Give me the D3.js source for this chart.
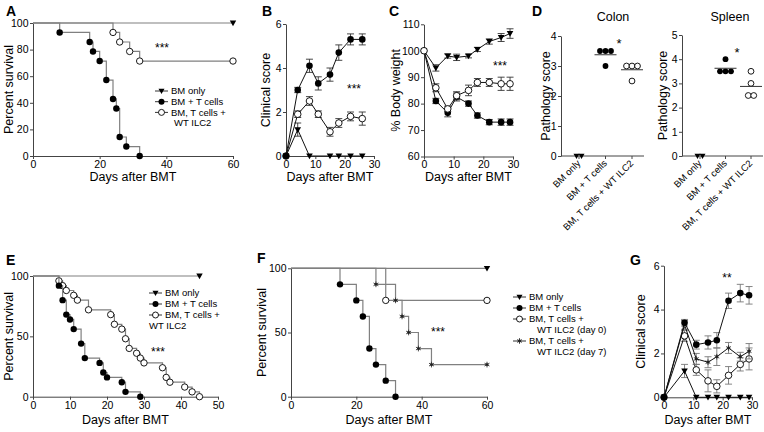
<!DOCTYPE html>
<html><head><meta charset="utf-8">
<script src="https://cdn.jsdelivr.net/npm/d3@7"></script>
<style>body{margin:0;background:#fff} svg{display:block} text{font-family:"Liberation Sans",Arial,Helvetica,sans-serif;fill:#000}</style>
</head><body><svg id="c" width="764" height="432"></svg>
<script>
// ---------------- DATA ----------------
// Panel A: Kaplan-Meier survival (days, percent)
const aBM_days = [60], aBM_pct = [100];
const aT_days = [8,17,18,20,22,24,25,26,28,32];
const aT_pct  = [92.9,85.7,78.6,71.4,57.1,42.9,35.7,14.3,7.1,0];
const aILC_days = [24,26,29,32,60];
const aILC_pct  = [92.9,85.7,78.6,71.4,71.4];

// Panel B: clinical score
const bDays = [0,4,8,11,15,18,22,26];
const bT_mean = [0,3.0,4.1,3.3,3.7,4.7,5.3,5.3];
const bT_sem  = [0,0.12,0.3,0.3,0.3,0.35,0.25,0.25];
const bILC_mean = [0,1.9,2.5,1.9,1.1,1.5,1.8,1.7];
const bILC_sem  = [0,0.15,0.2,0.15,0.2,0.2,0.2,0.3];
const bBM_days = [0,4,8,15,18,22,26];
const bBM_mean = [0,1.2,0,0,0,0,0];
const bBM_sem  = [0,0.3,0,0,0,0,0];

// Panel C: % body weight
const cDays = [0,4,8,11,15,18,22,26,29];
const cBM_mean = [100,93.5,98,97.5,98,100.5,103.5,105,106.5];
const cBM_sem  = [0,1.2,0.8,1.2,0.7,0.8,1.0,1.5,1.8];
const cT_mean  = [100,81,76.5,82.5,80,75.5,73,73,73];
const cT_sem   = [0,1.0,1.5,1.5,1.0,1.0,1.0,1.2,1.2];
const cILC_mean = [100,86,78,83,85,88,88,87.5,87.5];
const cILC_sem  = [0,1.5,1.0,1.5,2.0,1.5,1.5,2.5,2.5];

// Panel D: pathology scores
const dCategories = ["BM only","BM + T cells","BM, T cells + WT ILC2"];
const dColon_BM = [0,0], dColon_T = [3.5,3.5,3.5,3.0], dColon_ILC = [3.0,3.0,3.0,2.5];
const dSpleen_BM = [0,0], dSpleen_T = [4.0,3.5,3.5,3.5], dSpleen_ILC = [3.5,3.0,2.5,2.5];

// Panel E: survival
const eBM_days = [45], eBM_pct = [100];
const eT_days = [7,8,9,10,11,13,14,18,19,20,24,25,29];
const eT_pct  = [92,80,68,64,56,44,32,28,20,16,12,4,0];
const eILC_days = [7,8,9,11,12,15,21,22,24,25,26,28,29,30,35,36,37,41,43,45];
const eILC_pct  = [96,92,88,84,80,72,68,60,56,48,40,36,32,28,24,16,12,8,4,0];

// Panel F: survival
const fBM_days = [60], fBM_pct = [100];
const fT_days = [15,20,22,24,26,29,32];
const fT_pct  = [87.5,75,62.5,37.5,25,12.5,0];
const fD0_days = [29,60], fD0_pct = [75,75];
const fD7_days = [26,32,34,36,39,43,60];
const fD7_pct  = [87.5,75,62.5,50,37.5,25,25];

// Panel G: clinical score
const gDays = [0,7,11,15,18,22,26,29];
const gT_mean  = [0,3.4,2.4,2.5,2.6,4.4,4.75,4.65];
const gT_sem   = [0,0.15,0.2,0.3,0.35,0.35,0.4,0.4];
const gD7_mean = [0,3.3,1.75,1.6,1.85,2.25,1.85,2.1];
const gD7_sem  = [0,0.2,0.25,0.25,0.4,0.25,0.2,0.35];
const gD0_mean = [0,2.8,1.25,0.75,0.5,1.0,1.5,1.75];
const gD0_sem  = [0,0.25,0.25,0.5,0.3,0.4,0.3,0.5];
const gBM_mean = [0,1.2,0,0,0,0,0,0];
const gBM_sem  = [0,0.3,0,0,0,0,0,0];

// ---------------- DRAWING ----------------
const svg = d3.select("#c");
const AX = "#444";
const GRAY = "#808080";
const fmt = d3.format("d");

function styleAxis(g){
  g.selectAll("path.domain").attr("stroke",AX).attr("stroke-width",1);
  g.selectAll(".tick line").attr("stroke",AX);
  g.selectAll(".tick text").attr("font-size","10.5px").attr("fill","#000")
   .attr("font-family",'"Liberation Sans", Arial, Helvetica, sans-serif');
}
function axes(x, y, xt, yt){
  const gx = svg.append("g").attr("transform",`translate(0,${y.range()[0]})`)
    .call(d3.axisBottom(x).tickValues(xt).tickFormat(fmt).tickSize(3).tickSizeOuter(0).tickPadding(1.5));
  styleAxis(gx);
  const gy = svg.append("g").attr("transform",`translate(${x.range()[0]},0)`)
    .call(d3.axisLeft(y).tickValues(yt).tickFormat(fmt).tickSize(3).tickSizeOuter(0).tickPadding(1.5));
  styleAxis(gy);
}
function label(txt, x, y, size, opts={}){
  const t = svg.append("text").attr("x",x).attr("y",y).attr("font-size",size+"px").text(txt);
  if(opts.anchor) t.attr("text-anchor",opts.anchor);
  if(opts.bold) t.attr("font-weight","bold");
  if(opts.rot) t.attr("transform",`rotate(${opts.rot},${x},${y})`);
  return t;
}
function letter(L,x,y){ label(L,x,y,14,{bold:true}); }
function xTitle(x, y){ label("Days after BMT", (x.range()[0]+x.range()[1])/2, y, 12.5, {anchor:"middle"}); }
function yTitle(txt, x, y){ label(txt, x, (y.range()[0]+y.range()[1])/2, 12.5, {anchor:"middle", rot:-90}); }

// markers
function marker(g, type, cx, cy, r){
  r = r||3.3;
  if(type==="fill") g.append("circle").attr("cx",cx).attr("cy",cy).attr("r",r).attr("fill","#000");
  else if(type==="open") g.append("circle").attr("cx",cx).attr("cy",cy).attr("r",r).attr("fill","#fff").attr("stroke","#000").attr("stroke-width",0.9);
  else if(type==="tri") g.append("path").attr("d",`M${cx-r},${cy-r*0.75}L${cx+r},${cy-r*0.75}L${cx},${cy+r}Z`).attr("fill","#000");
  else if(type==="star"){
    g.append("path").attr("transform",`translate(${cx},${cy})`).attr("d",d3.symbol(d3.symbolAsterisk, 22)())
      .attr("stroke","#333").attr("stroke-width",0.9).attr("fill","none");
    g.append("circle").attr("cx",cx).attr("cy",cy).attr("r",1.4).attr("fill","#222");
  }
}

function survival(x, y, days, pct, type, color){
  const pts = [[0,100]].concat(days.map((d,i)=>[d,pct[i]]));
  svg.append("path").attr("d", d3.line().x(d=>x(d[0])).y(d=>y(d[1])).curve(d3.curveStepAfter)(pts))
    .attr("fill","none").attr("stroke",color||GRAY).attr("stroke-width",1.2);
  const g = svg.append("g");
  days.forEach((d,i)=>marker(g,type,x(d),y(pct[i]),3.2));
}

function meanLine(x, y, days, mean, sem, type, errColor){
  const pts = days.map((d,i)=>[d,mean[i],sem[i]]);
  const ge = svg.append("g").attr("stroke",errColor||"#333").attr("stroke-width",0.9);
  pts.forEach(p=>{
    if(p[2]>0){
      const cx=x(p[0]), y1=y(p[1]-p[2]), y2=y(p[1]+p[2]);
      ge.append("line").attr("x1",cx).attr("x2",cx).attr("y1",y1).attr("y2",y2);
      ge.append("line").attr("x1",cx-3.5).attr("x2",cx+3.5).attr("y1",y1).attr("y2",y1);
      ge.append("line").attr("x1",cx-3.5).attr("x2",cx+3.5).attr("y1",y2).attr("y2",y2);
    }
  });
  svg.append("path").attr("d", d3.line().x(d=>x(d[0])).y(d=>y(d[1]))(pts))
    .attr("fill","none").attr("stroke","#111").attr("stroke-width",1);
  const g = svg.append("g");
  pts.forEach(p=>marker(g,type,x(p[0]),y(p[1]),3.3));
}

function legend(x0, y0, rows, dy, size){
  rows.forEach((r,i)=>{
    const yy = y0 + i*dy;
    if(r.type){
      svg.append("line").attr("x1",x0).attr("x2",x0+13).attr("y1",yy).attr("y2",yy).attr("stroke","#333").attr("stroke-width",1);
      marker(svg, r.type, x0+6.5, yy, 3);
    }
    label(r.text, x0+16+(r.indent||0), yy+3.3, size);
  });
}

// ---- Panel A ----
{
  const x = d3.scaleLinear().domain([0,60]).range([33,233]);
  const y = d3.scaleLinear().domain([0,100]).range([156,23]);
  axes(x,y,[0,20,40,60],[0,20,40,60,80,100]);
  survival(x,y,aBM_days,aBM_pct,"tri");
  survival(x,y,aILC_days,aILC_pct,"open");
  survival(x,y,aT_days,aT_pct,"fill");
  letter("A",6,16);
  xTitle(x,181);
  yTitle("Percent survival",13,y);
  label("***",162,52,12,{anchor:"middle"});
  legend(155,91,[{type:"tri",text:"BM only"},{type:"fill",text:"BM + T cells"},{type:"open",text:"BM, T cells +"},{text:"WT ILC2",indent:3}],10.7,9.5);
}

// ---- Panel B ----
{
  const x = d3.scaleLinear().domain([0,30]).range([286,374]);
  const y = d3.scaleLinear().domain([0,6]).range([156,24]);
  axes(x,y,[0,10,20,30],[0,2,4,6]);
  meanLine(x,y,bBM_days,bBM_mean,bBM_sem,"tri");
  meanLine(x,y,bDays,bILC_mean,bILC_sem,"open");
  meanLine(x,y,bDays,bT_mean,bT_sem,"fill");
  letter("B",262,16);
  xTitle(x,181);
  yTitle("Clinical score",270,y);
  label("***",354,93,12,{anchor:"middle"});
}

// ---- Panel C ----
{
  const x = d3.scaleLinear().domain([0,30]).range([424,513]);
  const y = d3.scaleLinear().domain([60,110]).range([156.5,24.3]);
  axes(x,y,[0,10,20,30],[60,70,80,90,100,110]);
  meanLine(x,y,cDays,cBM_mean,cBM_sem,"tri");
  meanLine(x,y,cDays,cT_mean,cT_sem,"fill");
  meanLine(x,y,cDays,cILC_mean,cILC_sem,"open");
  letter("C",389,16);
  xTitle(x,181);
  yTitle("% Body weight",400,y);
  label("***",500,70,12,{anchor:"middle"});
}

// ---- Panel D ----
function dotPlot(x0, x1, cats, y, groups, yticks, title, titleX, starX, starY, ylabX){
  const x = d3.scalePoint().domain(cats).range([x0+18, x1-12]);
  const gx = svg.append("g").attr("transform",`translate(0,${y.range()[0]})`);
  gx.append("line").attr("x1",x0).attr("x2",x1).attr("stroke",AX);
  cats.forEach(c=>{
    gx.append("line").attr("x1",x(c)).attr("x2",x(c)).attr("y1",0).attr("y2",3).attr("stroke",AX);
    gx.append("text").attr("transform",`translate(${x(c)+2},${8}) rotate(-45)`).attr("text-anchor","end")
      .attr("font-size","9.5px").text(c);
  });
  const gy = svg.append("g").attr("transform",`translate(${x0},0)`)
    .call(d3.axisLeft(y).tickValues(yticks).tickFormat(fmt).tickSize(3).tickSizeOuter(0).tickPadding(1.5));
  styleAxis(gy);
  groups.forEach((gr,gi)=>{
    const cx = x(cats[gi]);
    const byVal = d3.group(gr.vals, v=>v);
    byVal.forEach((arr,v)=>{
      const n = arr.length;
      arr.forEach((_,k)=>{
        const off = (k-(n-1)/2)*(gr.type==="tri"?5:5.5);
        marker(svg, gr.type, cx+off, y(v), gr.type==="tri"?3:2.9);
      });
    });
    if(gr.type!=="tri"){
      const m = d3.mean(gr.vals);
      svg.append("line").attr("x1",cx-11).attr("x2",cx+11).attr("y1",y(m)).attr("y2",y(m)).attr("stroke","#333").attr("stroke-width",1);
    }
  });
  label(title,titleX,21,12.5,{anchor:"middle"});
  label("*",starX,starY,13,{anchor:"middle"});
  label("Pathology score", ylabX, (y.range()[0]+y.range()[1])/2, 12.5, {anchor:"middle", rot:-90});
}
{
  const y1 = d3.scaleLinear().domain([0,4]).range([156,36]);
  dotPlot(561,644,dCategories,y1,[{vals:dColon_BM,type:"tri"},{vals:dColon_T,type:"fill"},{vals:dColon_ILC,type:"open"}],[0,1,2,3,4],"Colon",613,619,48,550);
  const y2 = d3.scaleLinear().domain([0,5]).range([156,35]);
  dotPlot(682,763,dCategories,y2,[{vals:dSpleen_BM,type:"tri"},{vals:dSpleen_T,type:"fill"},{vals:dSpleen_ILC,type:"open"}],[0,1,2,3,4,5],"Spleen",730,737,57,667);
  letter("D",532,16);
}

// ---- Panel E ----
{
  const x = d3.scaleLinear().domain([0,50]).range([33,218]);
  const y = d3.scaleLinear().domain([0,100]).range([396.7,276]);
  axes(x,y,[0,10,20,30,40,50],[0,50,100]);
  survival(x,y,eBM_days,eBM_pct,"tri");
  survival(x,y,eILC_days,eILC_pct,"open");
  survival(x,y,eT_days,eT_pct,"fill");
  letter("E",6,265);
  xTitle(x,424);
  yTitle("Percent survival",13,y);
  label("***",158,356,12,{anchor:"middle"});
  legend(149,293,[{type:"tri",text:"BM only"},{type:"fill",text:"BM + T cells"},{type:"open",text:"BM, T cells +"},{text:"WT ILC2",indent:-16}],11,9.5);
}

// ---- Panel F ----
{
  const x = d3.scaleLinear().domain([0,60]).range([291,487]);
  const y = d3.scaleLinear().domain([0,100]).range([396.7,268.3]);
  axes(x,y,[0,20,40,60],[0,50,100]);
  survival(x,y,fBM_days,fBM_pct,"tri");
  survival(x,y,fD0_days,fD0_pct,"open");
  survival(x,y,fD7_days,fD7_pct,"star");
  survival(x,y,fT_days,fT_pct,"fill");
  letter("F",257,263);
  xTitle(x,424);
  yTitle("Percent survival",266,y);
  label("***",438,336,12,{anchor:"middle"});
  legend(513,297,[{type:"tri",text:"BM only"},{type:"fill",text:"BM + T cells"},{type:"open",text:"BM, T cells +"},{text:"WT ILC2 (day 0)",indent:8},{type:"star",text:"BM, T cells +"},{text:"WT ILC2 (day 7)",indent:8}],11,9.5);
}

// ---- Panel G ----
{
  const x = d3.scaleLinear().domain([0,30]).range([664,752]);
  const y = d3.scaleLinear().domain([0,6]).range([397.3,265.7]);
  axes(x,y,[0,10,20,30],[0,2,4,6]);
  meanLine(x,y,gDays,gBM_mean,gBM_sem,"tri","#777");
  meanLine(x,y,gDays,gD0_mean,gD0_sem,"open","#777");
  meanLine(x,y,gDays,gD7_mean,gD7_sem,"star","#777");
  meanLine(x,y,gDays,gT_mean,gT_sem,"fill","#777");
  letter("G",630,265);
  xTitle(x,424);
  yTitle("Clinical score",645,y);
  label("**",727,282,12,{anchor:"middle"});
}
</script></body></html>
